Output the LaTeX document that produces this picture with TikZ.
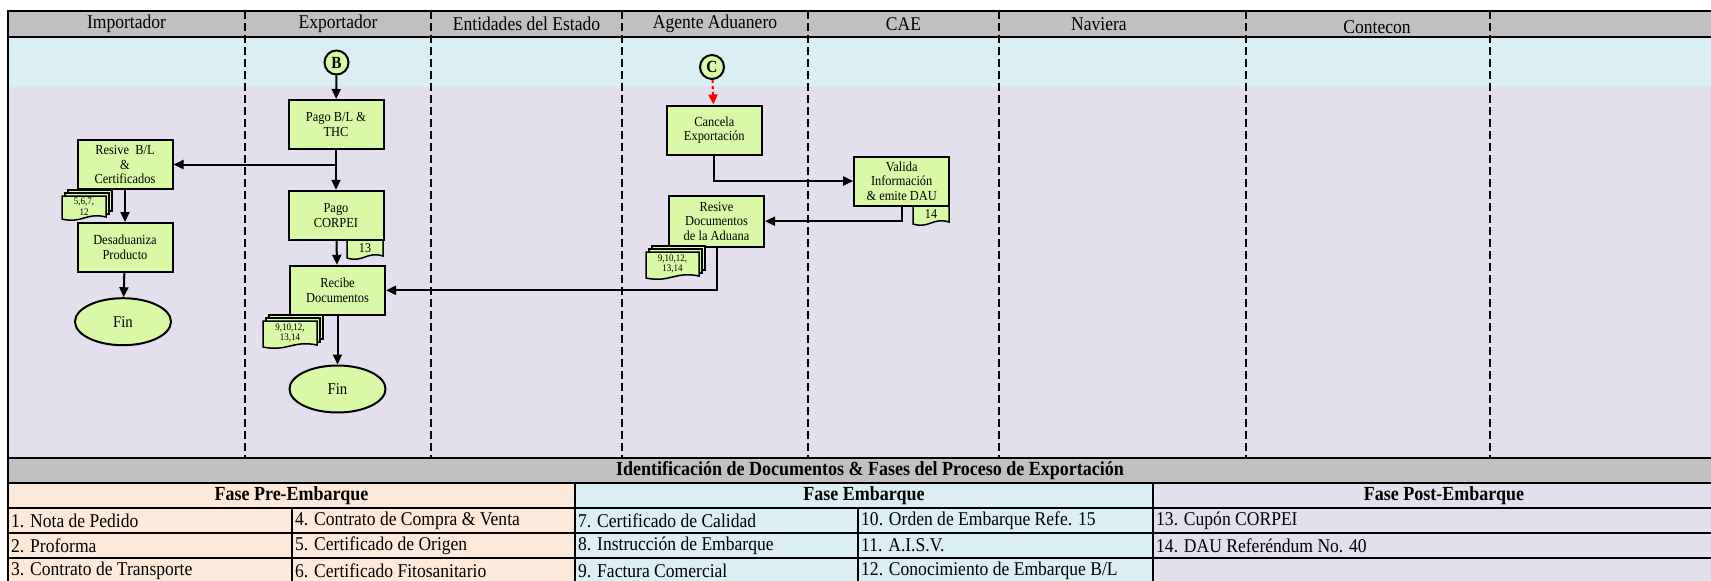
\documentclass[tikz,border=0pt]{standalone}
\usepackage{fontspec}
\setmainfont{Liberation Serif}[FakeStretch=0.9]
\usetikzlibrary{arrows.meta,shapes.geometric}

\definecolor{hdrgray}{HTML}{C0C0C0}
\definecolor{bandblue}{HTML}{DAEEF3}
\definecolor{lanelav}{HTML}{E4DFEC}
\definecolor{boxgreen}{HTML}{D9F9A6}
\definecolor{prepeach}{HTML}{FDE9D9}

% one sheet with a wavy foot: name, x, y, width, height, text
\newcommand\docsheet[6]{%
  \draw[docline] (#2,#3) -- ({#2+#4},#3) -- ({#2+#4},{#3+#5-2})
    .. controls ({#2+0.55*#4},{#3+#5-7}) and ({#2+0.45*#4},{#3+#5+5}) .. (#2,{#3+#5}) -- cycle;
  \node[doctext] (#1) at ({#2+#4/2},{#3+#5/2-1}) {#6};}
% a pile of three sheets
\newcommand\docpile[6]{%
  \draw[docline] ({#2+6},{#3-6}) rectangle ({#2+#4+6},{#3+#5-8});
  \draw[docline] ({#2+3},{#3-3}) rectangle ({#2+#4+3},{#3+#5-5});
  \docsheet{#1}{#2}{#3}{#4}{#5}{#6}}

\begin{document}
\begin{tikzpicture}[x=1pt,y=-1pt,
    frame/.style={line width=2.5pt},
    grid/.style={line width=2pt},
    lane/.style={line width=2pt,dash pattern=on 8pt off 4pt},
    hdr/.style={font=\fontsize{19.5}{22}\selectfont},
    cell/.style={anchor=west,inner sep=0pt,font=\fontsize{19.5}{22}\selectfont},
    fase/.style={font=\bfseries\fontsize{20}{22}\selectfont},
    proc/.style={draw,line width=2pt,fill=boxgreen,minimum width=95pt,minimum height=49pt,
      align=center,inner sep=1pt,font=\fontsize{13.8}{14.5}\selectfont},
    fin/.style={ellipse,draw,line width=2pt,fill=boxgreen,minimum width=96pt,minimum height=47pt,
      inner sep=0pt,font=\fontsize{16.5}{16.5}\selectfont},
    conn/.style={circle,draw,line width=2pt,fill=boxgreen,minimum size=24pt,inner sep=0pt,
      font=\bfseries\fontsize{17}{17}\selectfont},
    docline/.style={draw,line width=1.5pt,fill=boxgreen},
    doctext/.style={align=center,inner sep=0pt,font=\fontsize{10}{10.5}\selectfont},
    flow/.style={line width=2pt,-{Triangle[length=10pt,width=9pt]}}]
\useasboundingbox (0,0) rectangle (1711,581);
\begin{scope}
\clip (0,0) rectangle (1711,581);
% background of lanes and table
\fill[lanelav] (8,87) rectangle (1740,458);
\fill[bandblue] (8,37) rectangle (1740,87);
\fill[hdrgray] (8,11) rectangle (1740,37);
\fill[hdrgray] (8,458) rectangle (1740,483);
\fill[prepeach] (8,483) rectangle (575,590);
\fill[bandblue] (575,483) rectangle (1153,590);
\fill[lanelav] (1153,483) rectangle (1740,590);
\foreach \lx in {245,431,622,808,999,1246,1490}
  \draw[lane] (\lx,11) -- (\lx,458);
\draw[frame] (1740,11) -- (8,11) -- (8,590);
\draw[frame] (8,37) -- (1740,37);
\draw[frame] (8,458) -- (1740,458);
\draw[frame] (8,483) -- (1740,483);
\foreach \ry in {508,533,558}
  \draw[grid] (8,\ry) -- (1740,\ry);
\draw[grid] (575,483) -- (575,590);
\draw[grid] (1153,483) -- (1153,590);
\draw[grid] (292,508) -- (292,590);
\draw[grid] (858,508) -- (858,590);
\end{scope}

% lane headers
\node[hdr] (hImp) at (126.5,24) {Importador};
\node[hdr] (hExp) at (338,24) {Exportador};
\node[hdr] (hEnt) at (526.5,24) {Entidades del Estado};
\node[hdr] (hAge) at (715,24) {Agente Aduanero};
\node[hdr] (hCae) at (903.5,24) {CAE};
\node[hdr] (hNav) at (1099,24) {Naviera};
\node[hdr] (hCon) at (1377,27) {Contecon};

% Exportador
\node[conn] (B) at (336.5,62.5) {B};
\node[proc] (pagoBL) at (336,124.5) {Pago B/L \&\\THC};
\node[proc] (pagoCorpei) at (336,215.3) {Pago\\CORPEI};
\node[proc] (recibe) at (337.5,290.3) {Recibe\\Documentos};
\node[fin] (finExp) at (337.5,389) {Fin};
\docsheet{doc13}{347}{240}{36}{18}{\fontsize{13.5}{13.5}\selectfont 13}
\docpile{docsExp}{263}{321}{54}{26}{9,10,12,\\13,14}

% Importador
\node[proc] (resiveBL) at (125,164.5) {Resive~ B/L\\\&\\Certificados};
\node[proc] (desad) at (125,247.5) {Desaduaniza\\Producto};
\node[fin] (finImp) at (123,321.7) {Fin};
\docpile{docsImp}{62}{196}{44}{23}{5,6,7,\\12}

% Agente Aduanero and CAE
\node[conn] (C) at (712,67) {C};
\node[proc] (cancela) at (714.3,130) {Cancela\\Exportación};
\node[proc,minimum height=51pt] (resiveAd) at (716.5,221.2) {Resive\\Documentos\\de la Aduana};
\node[proc] (valida) at (901.7,181) {Valida\\Información\\\& emite DAU};
\docsheet{doc14}{913}{206}{36}{18}{\fontsize{13.5}{13.5}\selectfont 14}
\docpile{docsAge}{646}{252}{53}{26}{9,10,12,\\13,14}

\draw[flow] (B) -- (pagoBL);
\draw[flow] (pagoBL) -- (pagoCorpei);
\draw[flow] (pagoBL.south |- resiveBL.east) -- (resiveBL);
\draw[flow] (resiveBL) -- (desad);
\draw[flow] (desad) -- (finImp);
\draw[flow] (pagoCorpei) -- (recibe);
\draw[flow] (recibe) -- (finExp);
\draw[flow,red,dashed] (C) -- (cancela);
\draw[flow] (cancela.south) |- (valida.west);
\draw[flow] (valida.south) |- (resiveAd.east);
\draw[flow] (resiveAd.south) |- (recibe.east);

% documents table
\node[fase] (tTit) at (870,470.5) {Identificación de Documentos \& Fases del Proceso de Exportación};
\node[fase] (fPre) at (291.5,495.5) {Fase Pre-Embarque};
\node[fase] (fEmb) at (864,495.5) {Fase Embarque};
\node[fase] (fPost) at (1444,495.5) {Fase Post-Embarque};
\node[cell] (d1) at (11,520.5) {1. Nota de Pedido};
\node[cell] (d2) at (11,545.5) {2. Proforma};
\node[cell] (d3) at (11,570.5) {3. Contrato de Transporte};
\node[cell] (d4) at (295,520.5) {4. Contrato de Compra \& Venta};
\node[cell] (d5) at (295,545.5) {5. Certificado de Origen};
\node[cell] (d6) at (295,570.5) {6. Certificado Fitosanitario};
\node[cell] (d7) at (578,520.5) {7. Certificado de Calidad};
\node[cell] (d8) at (578,545.5) {8. Instrucción de Embarque};
\node[cell] (d9) at (578,570.5) {9. Factura Comercial};
\node[cell] (d10) at (861,520.5) {10. Orden de Embarque Refe. 15};
\node[cell] (d11) at (861,545.5) {11. A.I.S.V.};
\node[cell] (d12) at (861,570.5) {12. Conocimiento de Embarque B/L};
\node[cell] (d13) at (1156,520.5) {13. Cupón CORPEI};
\node[cell] (d14) at (1156,545.5) {14. DAU Referéndum No. 40};
\end{tikzpicture}
\end{document}
